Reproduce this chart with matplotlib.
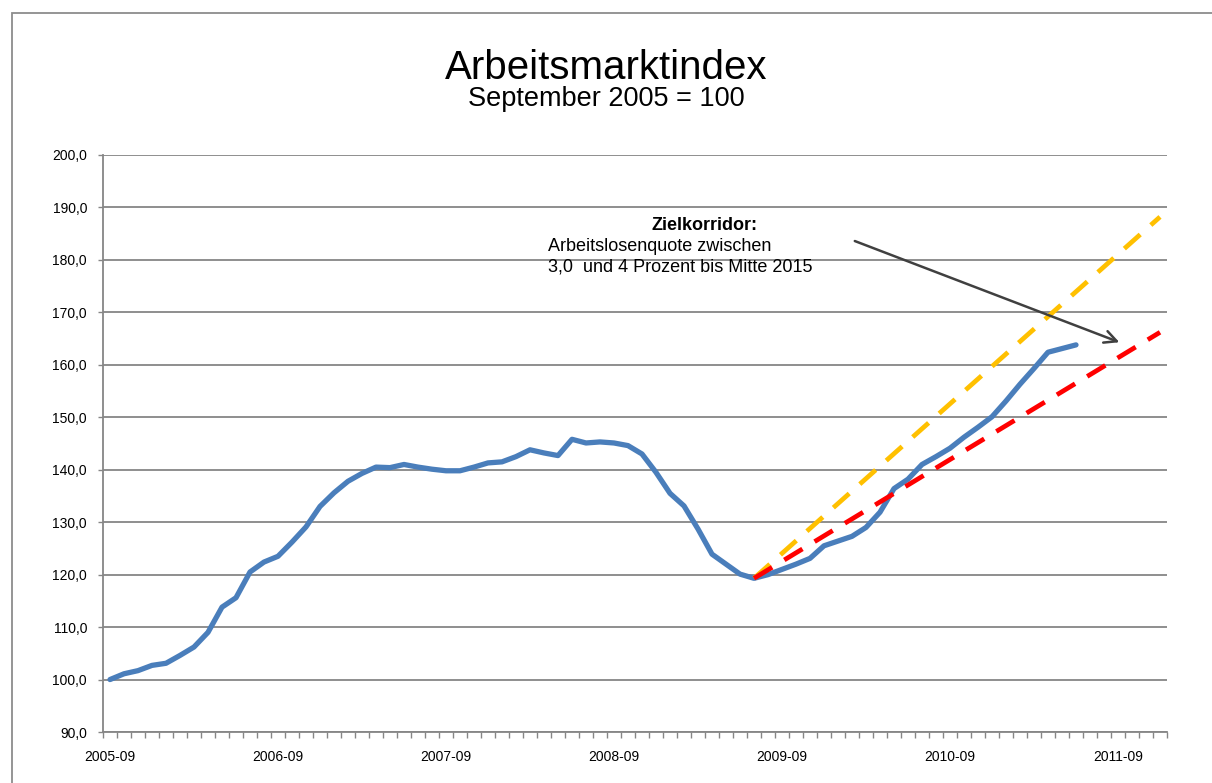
import matplotlib
matplotlib.use("Agg")
import matplotlib.pyplot as plt
from matplotlib.patches import Rectangle, FancyArrowPatch
from matplotlib.ticker import FixedLocator, FuncFormatter

plt.rcParams['font.family'] = ['Liberation Sans', 'DejaVu Sans']

# monthly categories 2005-09 .. 2011-12
months = []
for y in range(2005, 2012):
    for m in range(1, 13):
        if (y == 2005 and m < 9):
            continue
        months.append('%d-%02d' % (y, m))

# Arbeitsmarktindex, Sept 2005 = 100 (2005-09 .. 2011-06)
index_values = [100.0, 101.1, 101.7, 102.7, 103.1, 104.6, 106.2, 109.0, 113.8, 115.6,
                120.5, 122.4, 123.5, 126.2, 129.1, 133.0, 135.6, 137.8, 139.3, 140.5,
                140.4, 141.0, 140.5, 140.1, 139.8, 139.8, 140.5, 141.3, 141.5, 142.5,
                143.8, 143.2, 142.7, 145.8, 145.1, 145.3, 145.1, 144.6, 143.0, 139.5,
                135.5, 133.1, 128.7, 123.9, 122.0, 120.1, 119.3, 120.0, 121.0, 122.0,
                123.1, 125.5, 126.4, 127.3, 129.0, 131.9, 136.4, 138.2, 141.0, 142.5,
                144.1, 146.2, 148.1, 150.1, 153.1, 156.3, 159.3, 162.4, 163.1, 163.8]

# Zielkorridor: start and end of the two target lines
upper_months = ['2009-07', '2011-12']
upper_values = [119.3, 188.2]
lower_months = ['2009-07', '2011-12']
lower_values = [119.3, 166.2]

label_months = ['2005-09', '2006-09', '2007-09', '2008-09', '2009-09', '2010-09', '2011-09']

pos = {m: i for i, m in enumerate(months)}

fig = plt.figure(figsize=(12.12, 7.83), dpi=100)
W, H = 1212.0, 783.0
ax = fig.add_axes([103 / W, 1 - 732 / H, (1167 - 103) / W, (732 - 155) / H])

grid_col = '#868686'

# outer chart border
fig.patches.append(Rectangle((12 / W, -0.1), 1.2, 1 - 13 / H + 0.1, transform=fig.transFigure,
                             fill=False, edgecolor='#8c8c8c', linewidth=1.3))

ax.plot(range(len(index_values)), index_values, color='#4a7ebb', linewidth=3.8,
        solid_capstyle='round', solid_joinstyle='round', zorder=3)
ax.plot([pos[m] for m in upper_months], upper_values, color='#ffc000', linewidth=3.4,
        dashes=(4.5, 3), dash_capstyle='butt', zorder=4)
ax.plot([pos[m] for m in lower_months], lower_values, color='#ff0000', linewidth=3.4,
        dashes=(4.5, 3), dash_capstyle='butt', zorder=5)

ax.set_xlim(-0.5, len(months) - 0.5)
ax.set_ylim(90, 200)
ax.set_yticks(range(90, 201, 10))
ax.yaxis.set_major_formatter(FuncFormatter(lambda v, p: ('%.1f' % v).replace('.', ',')))
ax.grid(axis='y', color=grid_col, linewidth=1.3)
ax.set_axisbelow(True)

ax.set_xticks([pos[m] for m in label_months])
ax.set_xticklabels(label_months)
ax.xaxis.set_minor_locator(FixedLocator([i - 0.5 for i in range(len(months) + 1)]))
ax.tick_params(axis='x', which='major', length=0, pad=13, labelsize=10)
ax.tick_params(axis='x', which='minor', length=4.5, width=1.0, color=grid_col)
ax.tick_params(axis='y', which='major', length=3.5, width=1.0, color=grid_col, pad=8, labelsize=10)

for s in ['top', 'right']:
    ax.spines[s].set_visible(False)
for s in ['left', 'bottom']:
    ax.spines[s].set_color(grid_col)
    ax.spines[s].set_linewidth(1.3)

# titles
fig.text(606 / W, 1 - 79 / H, 'Arbeitsmarktindex', ha='center', va='baseline', fontsize=29)
fig.text(606 / W, 1 - 106 / H, 'September 2005 = 100', ha='center', va='baseline', fontsize=19.5)

# annotation
fig.text(705 / W, 1 - 230 / H, 'Zielkorridor:', ha='center', va='baseline', fontsize=13,
         fontweight='bold')
fig.text(548 / W, 1 - 251 / H, 'Arbeitslosenquote zwischen', ha='left', va='baseline', fontsize=13)
fig.text(548 / W, 1 - 272 / H, '3,0  und 4 Prozent bis Mitte 2015', ha='left', va='baseline',
         fontsize=13)

arrow = FancyArrowPatch((53.2, 183.6), (72.1, 164.3), arrowstyle='->', mutation_scale=22,
                        color='#404040', linewidth=1.8, zorder=6, shrinkA=0, shrinkB=0)
ax.add_patch(arrow)

fig.savefig('out.png', dpi=100)
